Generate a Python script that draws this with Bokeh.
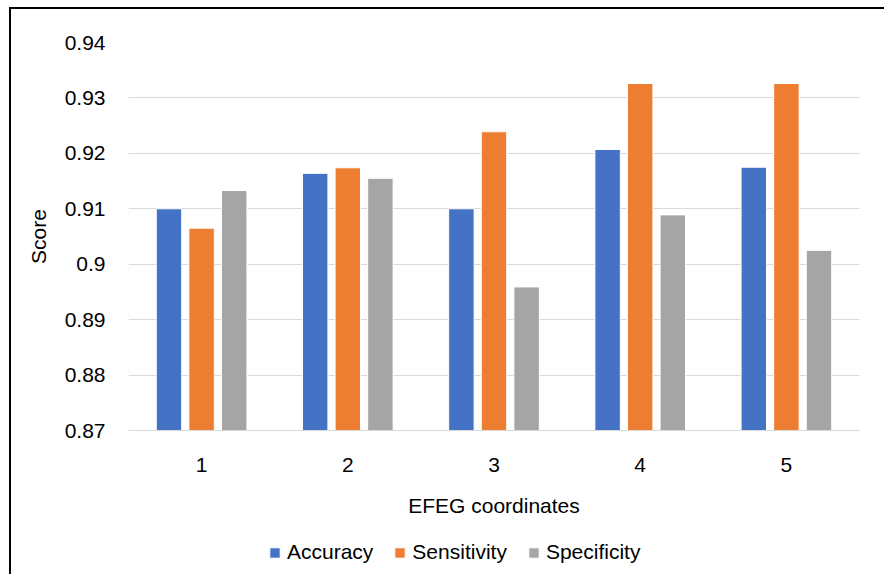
from bokeh.plotting import figure
from bokeh.layouts import column
from bokeh.models import (ColumnDataSource, FactorRange, Range1d, FixedTicker,
                          CustomJSTickFormatter, Legend, LegendItem)
from bokeh.transform import dodge
from bokeh.embed import file_html
from bokeh.resources import INLINE

# EFEG coordinate sets and their classification scores
coords = ["1", "2", "3", "4", "5"]
accuracy = [0.9100, 0.9164, 0.9100, 0.9207, 0.9175]
sensitivity = [0.9065, 0.9174, 0.9239, 0.9326, 0.9326]
specificity = [0.9133, 0.9155, 0.8959, 0.9089, 0.9025]
y_ticks = [0.87, 0.88, 0.89, 0.90, 0.91, 0.92, 0.93, 0.94]

source = ColumnDataSource(data=dict(coords=coords, accuracy=accuracy,
                                    sensitivity=sensitivity,
                                    specificity=specificity))

FONT = "Liberation Sans"
BLUE, ORANGE, GRAY = "#4472C4", "#ED7D31", "#A5A5A5"
series = [("accuracy", "Accuracy", BLUE, -0.223),
          ("sensitivity", "Sensitivity", ORANGE, 0.0),
          ("specificity", "Specificity", GRAY, 0.223)]

# main bar chart
p = figure(x_range=FactorRange(*coords), y_range=Range1d(0.87, 0.94),
           frame_width=731, frame_height=388,
           min_border_left=117, min_border_right=25,
           min_border_top=33, min_border_bottom=100,
           output_backend="svg", toolbar_location=None)
p.outline_line_color = None
p.background_fill_color = "white"
p.border_fill_color = "white"

for col, name, color, off in series:
    p.vbar(x=dodge("coords", off, range=p.x_range), top=col, bottom=0.87,
           width=0.174, source=source, fill_color=color,
           line_color="white", line_width=1)

p.xgrid.grid_line_color = None
p.ygrid.grid_line_color = "#D9D9D9"
p.ygrid.grid_line_width = 1

p.yaxis.ticker = FixedTicker(ticks=y_ticks)
p.yaxis.formatter = CustomJSTickFormatter(
    code="return tick.toFixed(2).replace(/0$/, '');")
p.yaxis.axis_label = "Score"
p.yaxis.axis_line_color = None
p.yaxis.major_tick_line_color = None
p.yaxis.minor_tick_line_color = None
p.yaxis.major_label_standoff = 17
p.yaxis.axis_label_standoff = 12

p.xaxis.axis_label = "EFEG coordinates"
p.xaxis.axis_line_color = "#D9D9D9"
p.xaxis.major_tick_line_color = None
p.xaxis.minor_tick_line_color = None
p.xaxis.major_label_standoff = 21
p.xaxis.axis_label_standoff = 19

for ax in (p.xaxis[0], p.yaxis[0]):
    ax.major_label_text_font = FONT
    ax.major_label_text_font_size = "21px"
    ax.major_label_text_color = "black"
    ax.axis_label_text_font = FONT
    ax.axis_label_text_font_size = "21px"
    ax.axis_label_text_font_style = "normal"
    ax.axis_label_text_color = "black"

# legend strip below the chart; its series renderers fall below its y range
leg = figure(width=873, height=44, x_range=FactorRange(*coords),
             y_range=Range1d(0.95, 1.0), x_axis_type=None, y_axis_type=None,
             min_border=0, output_backend="svg", toolbar_location=None)
leg.outline_line_color = None
leg.grid.grid_line_color = None
leg.border_fill_color = "white"
leg.background_fill_color = "white"

items = []
for col, name, color, off in series:
    r = leg.vbar(x=dodge("coords", off, range=leg.x_range), top=col,
                 bottom=0.87, width=0.174, source=source,
                 fill_color=color, line_color="white", line_width=1)
    items.append(LegendItem(label=name, renderers=[r]))

legend = Legend(items=items, orientation="horizontal",
                location=(140, 10), padding=0, margin=0,
                spacing=20, label_standoff=6,
                glyph_width=13, glyph_height=13,
                label_text_font=FONT, label_text_font_size="21px",
                label_text_color="black",
                border_line_color=None, background_fill_alpha=0)
leg.add_layout(legend, "center")

layout = column(p, leg, spacing=0)
layout.margin = (7, 0, 0, 9)
layout.styles = {"border-top": "2px solid black",
                 "border-left": "2px solid black"}

open("out.html", "w").write(file_html(layout, INLINE))
